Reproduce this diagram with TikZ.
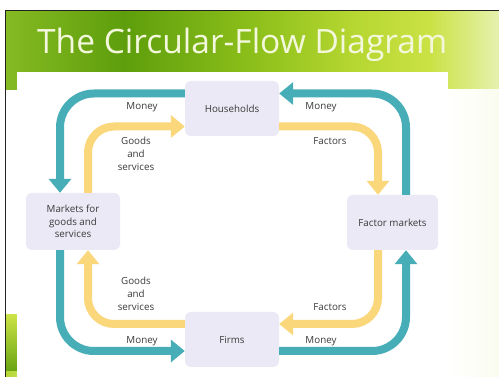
\documentclass[tikz,border=0pt]{standalone}
\usepackage{fontspec}
\setmainfont{Open Sans}
\usetikzlibrary{arrows.meta}
\definecolor{teal1}{HTML}{47ADB6}
\definecolor{yel1}{HTML}{FBD77C}
\definecolor{boxc}{HTML}{EAE9F5}
\definecolor{txt}{HTML}{3A3A3A}
\definecolor{titlec}{HTML}{F3F8DC}
\definecolor{frame}{HTML}{222222}
\definecolor{g1}{HTML}{85BA22}
\definecolor{g2}{HTML}{5E9E0C}
\definecolor{g3}{HTML}{8CBF1A}
\definecolor{g4}{HTML}{B5D630}
\definecolor{g5}{HTML}{CBE245}
\definecolor{g6}{HTML}{E6F1AE}
\pgfdeclarehorizontalshading{banner}{100bp}{color(0bp)=(g1); color(25bp)=(g1); color(37bp)=(g2); color(50bp)=(g3); color(60bp)=(g4); color(68bp)=(g5); color(75bp)=(g6); color(100bp)=(g6)}
\begin{document}
\begin{tikzpicture}[x=1pt,y=-1pt,
  box/.style={fill=boxc, rounded corners=6pt, inner sep=0pt, text=txt, align=center, font=\fontsize{9.8}{12.5}\selectfont},
  lbl/.style={font=\fontsize{9.8}{12.8}\selectfont, text=txt, align=center, inner sep=0pt},
  tflow/.style={draw=teal1, line width=8pt, -{Triangle[width=22pt,length=14pt]}, rounded corners=34pt},
  yflow/.style={draw=yel1, line width=8pt, -{Triangle[width=22pt,length=14pt]}, rounded corners=26pt}]
\useasboundingbox (0,0) rectangle (499,377);
\fill[white] (0,0) rectangle (499,377);
% banner
\shade[shading=banner] (6,11) rectangle (499,90);
\shade[left color=white, right color=g6!20] (448,90) rectangle (499,377);
% bottom-left green blob
\shade[top color=g5, bottom color=g2] (6,315) rectangle (17,377);
\shade[left color=g4, right color=white] (6,372) rectangle (85,377);
% white panel
\fill[white] (17,72) rectangle (448,377);
% frame lines
\draw[frame, line width=1.2pt] (5.5,377) -- (5.5,10.5) -- (499,10.5);
% title
\node[anchor=base west, font=\fontsize{33.5}{33.5}\selectfont, text=titlec, inner sep=0pt] (title) at (37,54) {The Circular-Flow Diagram};
% boxes
\node[box, minimum width=94pt, minimum height=55pt] (hh) at (232,108.5) {Households};
\node[box, minimum width=94pt, minimum height=55pt] (fm) at (232,339.5) {Firms};
\node[box, minimum width=94pt, minimum height=57pt] (mk) at (73,221.5) {Markets for\\goods and\\services};
\node[box, minimum width=91pt, minimum height=55pt] (fa) at (392.5,222.5) {Factor markets};
% flows
\draw[tflow] ([yshift=15pt]hh.west) -| ([xshift=-13pt]mk.north);
\draw[tflow] ([xshift=-13pt]mk.south) |- ([yshift=-11.5pt]fm.west);
\draw[tflow] ([yshift=-11.5pt]fm.east) -| ([xshift=13.5pt]fa.south);
\draw[tflow] ([xshift=13.5pt]fa.north) |- ([yshift=15pt]hh.east);
\draw[yflow] ([xshift=15pt]mk.north) |- ([yshift=-18pt]hh.west);
\draw[yflow] ([yshift=-18pt]hh.east) -| ([xshift=-14.5pt]fa.north);
\draw[yflow] ([xshift=-14.5pt]fa.south) |- ([yshift=15.5pt]fm.east);
\draw[yflow] ([yshift=15.5pt]fm.west) -| ([xshift=15pt]mk.south);
% labels
\node[lbl] (m1) at (142,107) {Money};
\node[lbl] (g1l) at (136,154) {Goods\\and\\services};
\node[lbl] (m2) at (321,107) {Money};
\node[lbl] (f1) at (330,141) {Factors};
\node[lbl] (g2l) at (136,294) {Goods\\and\\services};
\node[lbl] (m3) at (142,341) {Money};
\node[lbl] (f2) at (330,307) {Factors};
\node[lbl] (m4) at (321,341) {Money};
\end{tikzpicture}
\end{document}
